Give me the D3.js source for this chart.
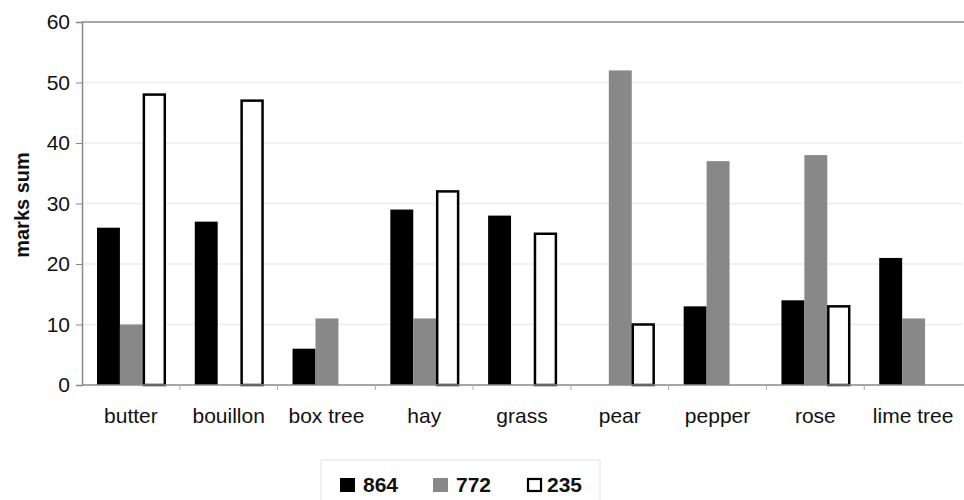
<!DOCTYPE html>
<html><head><meta charset="utf-8">
<script src="https://cdn.jsdelivr.net/npm/d3@7"></script>
<style>body{margin:0;background:#fff;}svg{display:block;font-family:"Liberation Sans",Arial,sans-serif;}</style>
</head><body><svg id="c" width="964" height="500"></svg>
<script>
const categories = ["butter","bouillon","box tree","hay","grass","pear","pepper","rose","lime tree"];
const seriesNames = ["864","772","235"];
const s864 = [26,27,6,29,28,null,13,14,21];
const s772 = [10,null,11,11,null,52,37,38,11];
const s235 = [48,47,null,32,25,10,null,13,null];
const yTicks = [0,10,20,30,40,50,60];
const series = [s864,s772,s235];
const fills = ["#000","#888","#fff"];
const strokes = ["none","none","#000"];

const svg = d3.select("#c");
const m = {l:82, r:2, t:22, b:115};
const W = 964, H = 500;
const x = d3.scaleBand().domain(categories).range([m.l, W-m.r]).paddingInner(0).paddingOuter(0);
const y = d3.scaleLinear().domain([0,60]).range([385, 22]);
const inner = d3.scaleBand().domain(seriesNames).range([15, x.bandwidth()-14]).padding(0);

// gridlines
svg.append("g").selectAll("line").data(yTicks.filter(d=>d>0&&d<60)).join("line")
  .attr("x1",m.l).attr("x2",W-m.r).attr("y1",d=>y(d)).attr("y2",d=>y(d))
  .attr("stroke","#ececec").attr("stroke-width",1.5);
// top border
svg.append("line").attr("x1",m.l).attr("x2",W).attr("y1",y(60)).attr("y2",y(60)).attr("stroke","#888").attr("stroke-width",1.5);

// bars
series.forEach((s,i)=>{
  svg.append("g").selectAll("rect").data(categories.map((c,j)=>({c,v:s[j]})).filter(d=>d.v!=null)).join("rect")
    .attr("x",d=>x(d.c)+inner(seriesNames[i]) + (i==2?1:0))
    .attr("width",inner.bandwidth() - (i==2?2:0))
    .attr("y",d=>y(d.v))
    .attr("height",d=>y(0)-y(d.v))
    .attr("fill",fills[i]).attr("stroke",strokes[i]).attr("stroke-width",i==2?2.5:0);
});

// y axis
const ya = d3.axisLeft(y).tickValues(yTicks).tickSize(6).tickPadding(6);
const gy = svg.append("g").attr("transform",`translate(${m.l},0)`).call(ya);
gy.select(".domain").attr("stroke","#888").attr("stroke-width",1.5);
gy.selectAll(".tick line").attr("stroke","#888");
gy.selectAll("text").attr("font-size",21).attr("fill","#111");

// x axis
const gx = svg.append("g").attr("transform",`translate(0,${y(0)})`);
gx.append("line").attr("x1",m.l).attr("x2",W).attr("stroke","#888").attr("stroke-width",1.5);
gx.selectAll(".tk").data(categories.slice(1)).join("line").attr("class","tk")
  .attr("x1",d=>x(d)).attr("x2",d=>x(d)).attr("y1",0).attr("y2",5).attr("stroke","#aaa");
gx.selectAll("text").data(categories).join("text")
  .attr("x",d=>x(d)+x.bandwidth()/2).attr("y",38).attr("text-anchor","middle")
  .attr("font-size",21).attr("fill","#111").text(d=>d);

// y label
svg.append("text").attr("transform","translate(29,205) rotate(-90)").attr("text-anchor","middle")
  .attr("font-size",20).attr("font-weight","bold").attr("fill","#111").text("marks sum");

// legend
const lg = svg.append("g");
lg.append("rect").attr("x",321).attr("y",460).attr("width",279).attr("height",45).attr("fill","#fff").attr("stroke","#e2e2e2");
const lx = [340,433,527];
seriesNames.forEach((n,i)=>{
  lg.append("rect").attr("x",lx[i]+(i==2?1:0)).attr("y",478+(i==2?1:0)).attr("width",i==2?13:15).attr("height",i==2?12:14)
    .attr("fill",fills[i]).attr("stroke",strokes[i]).attr("stroke-width",2.2);
  lg.append("text").attr("x",lx[i]+(i==2?20:23)).attr("y",492).attr("font-size",21).attr("font-weight","bold").attr("fill","#111").text(n);
});
</script></body></html>
